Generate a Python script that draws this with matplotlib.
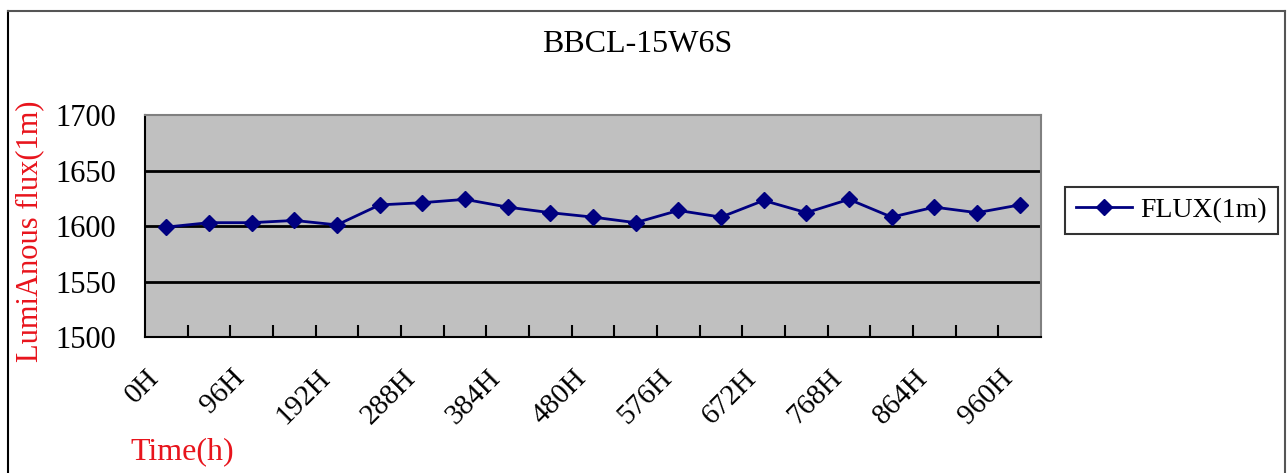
import numpy as np
import matplotlib
matplotlib.use('Agg')
import matplotlib.pyplot as plt
import matplotlib.transforms as mtransforms
from matplotlib.lines import Line2D

# Datos
horas = [0, 48, 96, 144, 192, 240, 288, 336, 384, 432, 480,
         528, 576, 624, 672, 720, 768, 816, 864, 912, 960]
flujo = [1599, 1603, 1603, 1605, 1601, 1619, 1621, 1624, 1617, 1612, 1608,
         1603, 1614, 1608, 1623, 1612, 1624, 1608, 1617, 1612, 1619]
etiquetas = ['%dH' % h for h in horas]
y_ticks = [1500, 1550, 1600, 1650, 1700]

plt.rcParams['font.family'] = ['Liberation Serif', 'DejaVu Serif']

fig = plt.figure(figsize=(12.88, 4.73), dpi=100)
W, H = 1288, 473
ax = fig.add_axes([145 / W, 1 - 337 / H, (1041 - 145) / W, (337 - 115) / H])
ax.set_facecolor('#c0c0c0')

x = np.arange(len(horas))
ax.plot(x, flujo, color='#000080', lw=2, marker='D', markersize=8,
        label='FLUX(1m)', zorder=3)

ax.set_xlim(-0.5, len(horas) - 0.5)
ax.set_ylim(1500, 1700)
ax.set_yticks(y_ticks)
ax.tick_params(axis='y', length=0, pad=21, labelsize=22)
for v in y_ticks[1:-1]:
    ax.axhline(v, color='black', lw=2, zorder=1)

ax.set_xticks(x[::2])
ax.set_xticklabels(etiquetas[::2], rotation=45, ha='right', va='top',
                   rotation_mode='anchor', fontsize=21)
ax.set_xticks(np.arange(0.5, len(horas) - 0.5, 1), minor=True)
ax.tick_params(axis='x', which='major', length=0, pad=20)
ax.tick_params(axis='x', which='minor', direction='in', length=9, width=1.5)
desplaza = mtransforms.ScaledTranslation(-20 / 100, 0, fig.dpi_scale_trans)
for lab in ax.get_xticklabels():
    lab.set_transform(lab.get_transform() + desplaza)

for s in ['left', 'bottom']:
    ax.spines[s].set_color('black')
    ax.spines[s].set_linewidth(1.5)
for s in ['top', 'right']:
    ax.spines[s].set_color('#808080')
    ax.spines[s].set_linewidth(1.5)

fig.text(637 / W, 1 - 45 / H, 'BBCL-15W6S', ha='center', va='center',
         fontsize=23)
fig.text(30 / W, 1 - 231 / H, 'LumiAnous flux(1m)', rotation=90,
         ha='center', va='center', fontsize=22, color='#e8141c')
fig.text(130 / W, 1 - 452 / H, 'Time(h)', ha='left', va='center',
         fontsize=23, color='#e8141c')

leg = fig.legend(loc='center left', bbox_to_anchor=(1065 / W, 1 - 210.5 / H),
                 fontsize=20, frameon=True, fancybox=False, borderaxespad=0,
                 borderpad=0.4, handlelength=2.0, handletextpad=0.3)
leg.get_frame().set_edgecolor('black')
leg.get_frame().set_linewidth(1.5)

# Marco del grafico
fig.add_artist(Line2D([8 / W, 8 / W], [0, 1 - 11 / H], color='black', lw=1.5))
fig.add_artist(Line2D([8 / W, 1285 / W], [1 - 11 / H, 1 - 11 / H],
                      color='#555555', lw=1.5))
fig.add_artist(Line2D([1285 / W, 1285 / W], [0, 1 - 11 / H], color='#555555',
                      lw=1.5))

fig.savefig('out.png', dpi=100)
